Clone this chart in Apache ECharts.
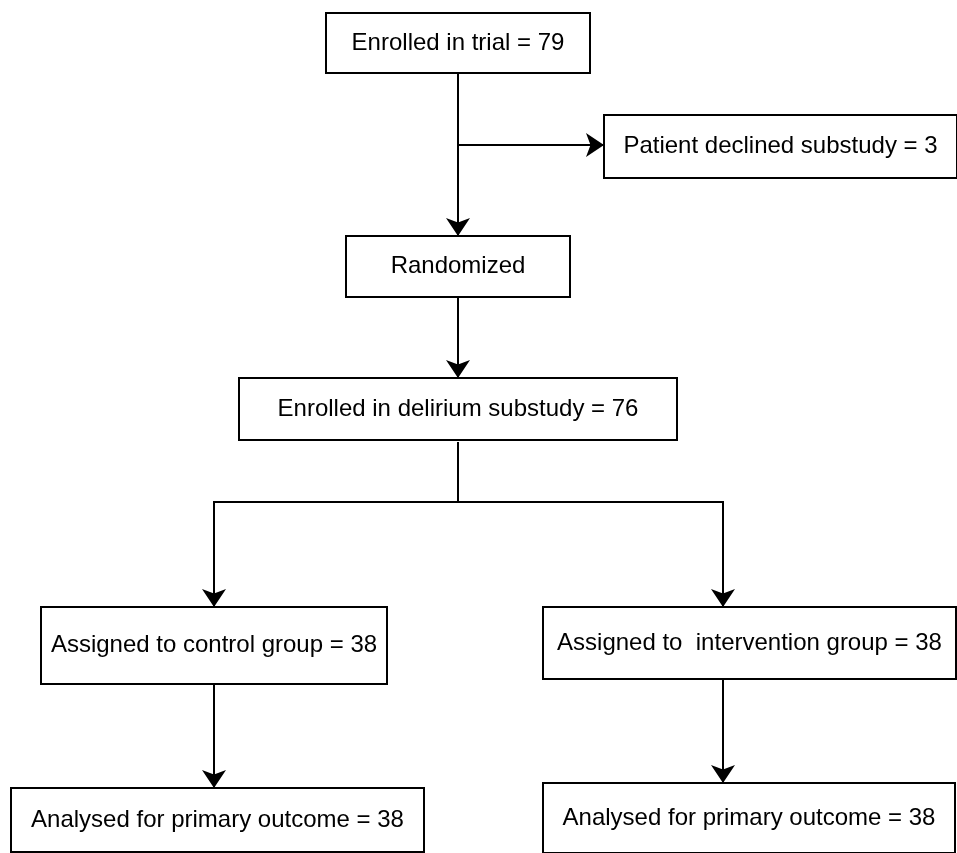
<!DOCTYPE html>
<html>
<head>
<meta charset="utf-8">
<script src="https://cdn.jsdelivr.net/npm/echarts@6/dist/echarts.min.js"></script>
<style>html,body{margin:0;padding:0;background:#fff;}#c{width:957px;height:853px;}</style>
</head>
<body>
<div id="c"></div>
<script>
// Flowchart content
const boxText = [
  'Enrolled in trial = 79',
  'Patient declined substudy = 3',
  'Randomized',
  'Enrolled in delirium substudy = 76',
  'Assigned to control group = 38',
  'Assigned to  intervention group = 38',
  'Analysed for primary outcome = 38',
  'Analysed for primary outcome = 38'
];
// box extents in page units: [left, top, right, bottom]
const boxRect = [
  [326, 13, 590, 73],
  [604, 115, 957, 178],
  [346, 236, 570, 297],
  [239, 378, 677, 440],
  [41, 607, 387, 684],
  [543, 607, 956, 679],
  [11, 788, 424, 852],
  [543, 783, 955, 853]
];
// connectors ending in an arrow head
const arrowLinks = [
  [[458, 73], [458, 236]],
  [[458, 145], [604, 145]],
  [[458, 297], [458, 378]],
  [[214, 502], [214, 607]],
  [[723, 502], [723, 607]],
  [[214, 684], [214, 788]],
  [[723, 679], [723, 783]]
];
// plain connectors
const plainLinks = [
  [[458, 442], [458, 502]],
  [[213, 502], [724, 502]]
];

const chart = echarts.init(document.getElementById('c'), null, {renderer: 'canvas'});
chart.setOption({
  animation: false,
  backgroundColor: '#fff',
  grid: {left: 0, right: 0, top: 0, bottom: 0},
  xAxis: {type: 'value', min: 0, max: 957, show: false},
  yAxis: {type: 'value', min: 0, max: 853, inverse: true, show: false},
  series: [
    {
      type: 'lines',
      coordinateSystem: 'cartesian2d',
      symbol: ['none', 'arrow'],
      symbolSize: [11, 18],
      lineStyle: {color: '#000', width: 2, opacity: 1},
      itemStyle: {color: '#000'},
      data: arrowLinks.map(s => ({coords: s})),
      z: 1
    },
    {
      type: 'lines',
      coordinateSystem: 'cartesian2d',
      symbol: 'none',
      lineStyle: {color: '#000', width: 2, opacity: 1},
      data: plainLinks.map(s => ({coords: s})),
      z: 1
    },
    {
      type: 'custom',
      coordinateSystem: 'cartesian2d',
      data: boxRect,
      encode: {x: [0, 2], y: [1, 3]},
      z: 2,
      renderItem: function (params, api) {
        const p0 = api.coord([api.value(0), api.value(1)]);
        const p1 = api.coord([api.value(2), api.value(3)]);
        return {
          type: 'group',
          children: [
            {
              type: 'rect',
              shape: {x: p0[0], y: p0[1], width: p1[0] - p0[0], height: p1[1] - p0[1]},
              style: {fill: 'none', stroke: '#000', lineWidth: 2}
            },
            {
              type: 'text',
              x: (p0[0] + p1[0]) / 2,
              y: (p0[1] + p1[1]) / 2,
              style: {
                text: boxText[params.dataIndex],
                fill: '#000',
                font: '24px "Liberation Sans", Arial, sans-serif',
                align: 'center',
                verticalAlign: 'middle'
              }
            }
          ]
        };
      }
    }
  ]
});
</script>
</body>
</html>
